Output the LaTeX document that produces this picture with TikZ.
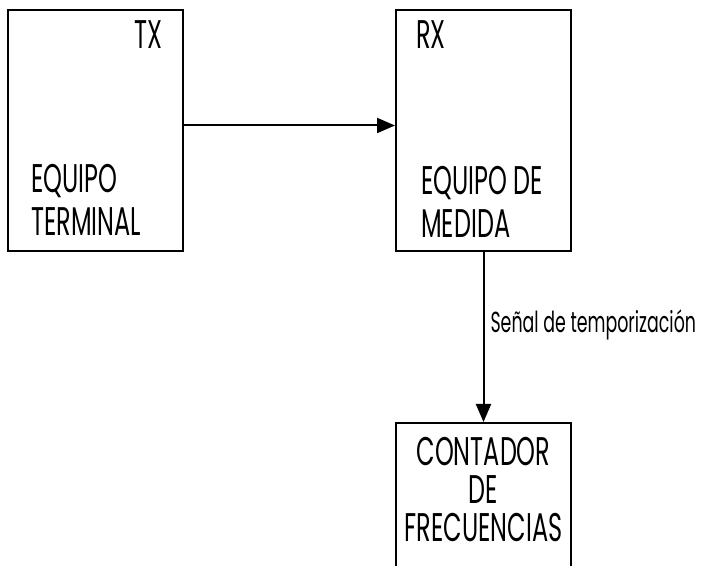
\documentclass[tikz,border=0pt]{standalone}
\usepackage{fontspec}
\usepackage{tikz}
\usetikzlibrary{arrows.meta}
\newfontfamily\diagfont[FakeStretch=0.6]{Poppins}

\begin{document}
\begin{tikzpicture}[x=1pt, y=1pt,
		box/.style={draw, line width=2pt, minimum width=175pt, inner sep=0pt},
		txt/.style={inner sep=0pt, font=\diagfont\fontsize{40}{43}\selectfont},
		link/.style={-{Triangle[length=18pt,width=15pt]}, line width=2pt}]
		
		\useasboundingbox (0,0) rectangle (701,565);
		
		% boxes
		\node[box, minimum height=241pt] (tx) at (95.5,434.5) {};
		\node[box, minimum height=241pt] (rx) at (483.5,434.5) {};
		\node[box, minimum height=152pt] (cont) at (483.5,66) {};
		
		% names of the ends
		\node[txt, anchor=base east] (txname) at ([xshift=-21pt,yshift=-40pt]tx.north east) {TX};
		\node[txt, anchor=base west] (rxname) at ([xshift=21pt,yshift=-40pt]rx.north west) {RX};
		
		% equipment (base = last line)
		\node[txt, align=left, anchor=base west] (term) at ([xshift=24pt,yshift=16pt]tx.south west) {EQUIPO\\TERMINAL};
		\node[txt, align=left, anchor=base west] (meas) at ([xshift=26pt,yshift=14pt]rx.south west) {EQUIPO DE\\MEDIDA};
		\node[txt, align=center, anchor=base, font=\diagfont\fontsize{40}{38}\selectfont] (count) at ([yshift=-119pt]cont.north) {CONTADOR\\DE\\FRECUENCIAS};
		
		% signal paths
		\draw[link] ([yshift=5pt]tx.east) -- ([yshift=5pt]rx.west);
		\draw[link] (rx.south) -- node[txt, anchor=base west, xshift=6pt, yshift=4pt, font=\diagfont\fontsize{29}{32}\selectfont] (sig) {Señal de temporización} (cont.north);
		
	\end{tikzpicture}
\end{document}
